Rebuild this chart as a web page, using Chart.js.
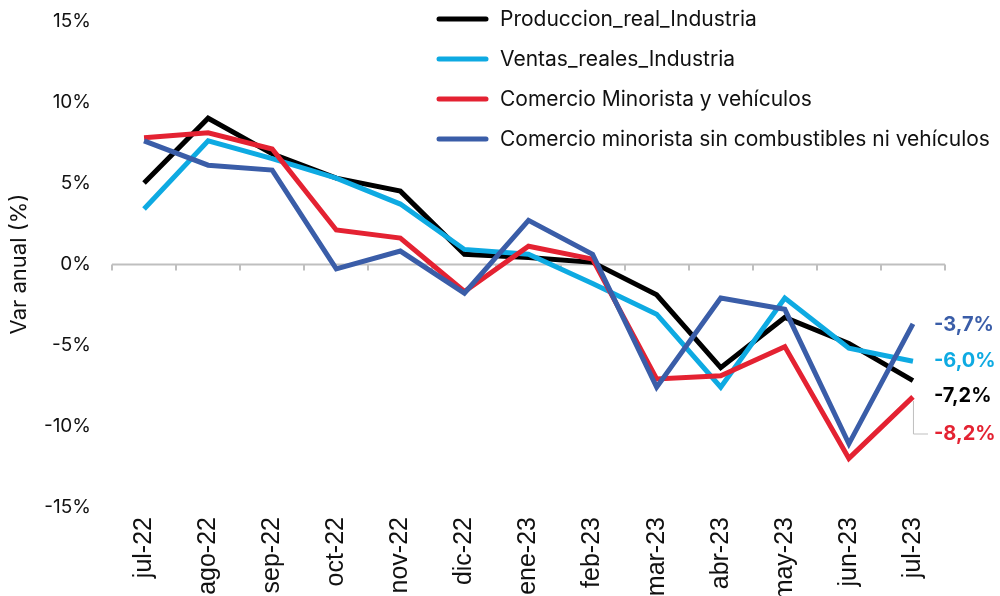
<!DOCTYPE html>
<html>
<head>
<meta charset="utf-8">
<script src="https://cdn.jsdelivr.net/npm/chart.js@4"></script>
<style>
  html, body { margin: 0; padding: 0; background: #fff; }
  #wrap { width: 1000px; height: 596px; }
</style>
</head>
<body>
<div id="wrap"><canvas id="chart"></canvas></div>
<script>
var months = ["jul-22", "ago-22", "sep-22", "oct-22", "nov-22", "dic-22", "ene-23", "feb-23", "mar-23", "abr-23", "may-23", "jun-23", "jul-23"];

var produccion = [5.0, 9.0, 6.8, 5.3, 4.5, 0.6, 0.4, 0.1, -1.9, -6.4, -3.3, -4.9, -7.2];
var ventas = [3.4, 7.6, 6.5, 5.3, 3.7, 0.9, 0.6, -1.2, -3.1, -7.6, -2.1, -5.2, -6.0];
var minorista = [7.8, 8.1, 7.1, 2.1, 1.6, -1.7, 1.1, 0.3, -7.1, -6.9, -5.1, -12.0, -8.2];
var sinComb = [7.6, 6.1, 5.8, -0.3, 0.8, -1.8, 2.7, 0.6, -7.6, -2.1, -2.8, -11.1, -3.7];

var yTicks = [15, 10, 5, 0, -5, -10, -15];

var names = ["Produccion_real_Industria", "Ventas_reales_Industria", "Comercio Minorista y vehículos", "Comercio minorista sin combustibles ni vehículos"];
var colors = ["#000000", "#0EAAE2", "#E42232", "#3A5DA8"];
var series = [produccion, ventas, minorista, sinComb];

function makeDataset(i) {
  return {
    label: names[i],
    data: series[i],
    borderColor: colors[i],
    backgroundColor: colors[i],
    borderWidth: 5,
    pointRadius: 0,
    tension: 0,
    order: 4 - i
  };
}

// grey zero line with small ticks between the months
var zeroAxis = {
  id: "zeroAxis",
  beforeDatasetsDraw: function (chart) {
    var ctx = chart.ctx;
    var y = chart.scales.y;
    var y0 = Math.round(y.getPixelForValue(0)) + 0.5;
    var left = chart.chartArea.left, right = chart.chartArea.right;
    var step = (right - left) / months.length;
    ctx.save();
    ctx.strokeStyle = "#BFBFBF";
    ctx.lineWidth = 2;
    ctx.beginPath();
    ctx.moveTo(left, y0);
    ctx.lineTo(right, y0);
    for (var i = 0; i <= months.length; i++) {
      var px = Math.round(left + i * step);
      ctx.moveTo(px, y0);
      ctx.lineTo(px, y0 + 6);
    }
    ctx.stroke();
    ctx.restore();
  }
};

var legendAndLabels = {
  id: "legendAndLabels",
  afterDraw: function (chart) {
    var ctx = chart.ctx;
    ctx.save();
    // legend
    ctx.font = "21px Inter";
    ctx.textBaseline = "middle";
    ctx.lineCap = "round";
    for (var i = 0; i < names.length; i++) {
      var ly = 19 + i * 40;
      ctx.strokeStyle = colors[i];
      ctx.lineWidth = 5;
      ctx.beginPath();
      ctx.moveTo(439, ly);
      ctx.lineTo(486, ly);
      ctx.stroke();
      ctx.fillStyle = "#111";
      ctx.fillText(names[i], 500, ly + 1);
    }
    // end labels
    var y = chart.scales.y;
    var last = months.length - 1;
    var xs = chart.scales.x.getPixelForValue(last);
    var labelY = [396, 361, 434, 325];
    ctx.font = "bold 20px Inter";
    ctx.textAlign = "left";
    for (var j = 0; j < series.length; j++) {
      var v = series[j][last];
      var txt = v.toFixed(1).replace(".", ",") + "%";
      ctx.fillStyle = colors[j];
      ctx.fillText(txt, 934, labelY[j]);
    }
    // leader line for red label
    var py = y.getPixelForValue(minorista[last]);
    ctx.strokeStyle = "#BFBFBF";
    ctx.lineWidth = 1;
    ctx.lineCap = "butt";
    ctx.beginPath();
    ctx.moveTo(xs + 0.5, py + 4);
    ctx.lineTo(xs + 0.5, 434);
    ctx.lineTo(928, 434);
    ctx.stroke();
    ctx.restore();
  }
};

new Chart(document.getElementById("chart"), {
  type: "line",
  data: {
    labels: months,
    datasets: [0, 1, 2, 3].map(makeDataset)
  },
  options: {
    responsive: true,
    maintainAspectRatio: false,
    animation: false,
    layout: { padding: { top: 21, right: 55, left: 0, bottom: 0 } },
    plugins: {
      legend: { display: false },
      tooltip: { enabled: false }
    },
    scales: {
      x: {
        offset: true,
        grid: { display: false, drawTicks: false },
        border: { display: false },
        ticks: {
          minRotation: 90,
          maxRotation: 90,
          padding: 10,
          color: "#111",
          font: { family: "Liberation Sans", size: 25 }
        },
        afterFit: function (s) {
          s.height = 89;
          s.paddingLeft = 0;
          s.paddingRight = 0;
        }
      },
      y: {
        min: -15,
        max: 15,
        afterBuildTicks: function (s) {
          s.ticks = yTicks.map(function (v) { return { value: v }; });
        },
        grid: { display: false, drawTicks: false },
        border: { display: false },
        ticks: {
          padding: 21,
          color: "#111",
          font: { family: "Inter", size: 19 },
          callback: function (v) { return v + "%"; }
        },
        title: {
          display: true,
          text: "Var anual (%)",
          color: "#111",
          padding: { top: 6, bottom: 0 },
          font: { family: "Inter", size: 22 }
        },
        afterFit: function (s) {
          s.width = 112;
          s.paddingTop = 0;
          s.paddingBottom = 0;
        }
      }
    }
  },
  plugins: [zeroAxis, legendAndLabels]
});
</script>
</body>
</html>
